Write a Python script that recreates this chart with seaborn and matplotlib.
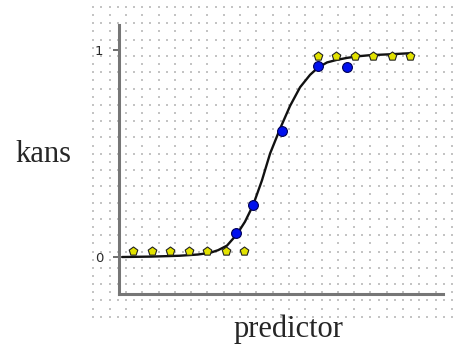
import numpy as np
import pandas as pd
import matplotlib
matplotlib.use("Agg")
from matplotlib import pyplot as plt
import seaborn as sns

# values
curve_x = [0.41, 2.0, 3.5, 4.5, 5.16, 5.6, 6.08, 6.62, 7.05, 7.49, 7.97, 8.41,
           8.95, 9.49, 10.03, 10.57, 11.0, 11.49, 12.0, 12.57, 13.2, 13.81, 15.05, 16.08]
curve_p = [0.0, 0.002, 0.006, 0.012, 0.02, 0.033, 0.055, 0.11, 0.17, 0.25, 0.37, 0.5,
           0.62, 0.73, 0.82, 0.88, 0.915, 0.94, 0.952, 0.962, 0.97, 0.975, 0.98, 0.985]

zero_x = [1, 2, 3, 4, 5, 6, 7]
zero_y = [0.03, 0.03, 0.03, 0.03, 0.03, 0.03, 0.03]
one_x = [11, 12, 13, 14, 15, 16]
one_y = [0.97, 0.97, 0.97, 0.97, 0.97, 0.97]
blue_x = [6.57, 7.49, 9.05, 11.0, 12.57]
blue_y = [0.116, 0.25, 0.61, 0.923, 0.918]

yticks = [0, 1]
ylabels = ["0", "1"]

sns.set_style("white")
plt.rcParams["font.family"] = ["DejaVu Sans"]

W, H = 468, 345
fig = plt.figure(figsize=(W / 100, H / 100), dpi=100)

# dotted grid paper background (pixel coords)
bg = fig.add_axes([0, 0, 1, 1])
bg.set_xlim(0, W)
bg.set_ylim(H, 0)
bg.axis("off")
step = 8.15
gx = np.arange(45) * step + 93.3
gy = np.arange(39) * step + 7.0
ix, iy = np.meshgrid(np.arange(len(gx)), np.arange(len(gy)))
keep = (ix % 2 == 0) | (iy % 2 == 0)
bg.scatter(gx[ix[keep]], gy[iy[keep]], s=1.6, marker="s", color="#c4c4c4", linewidths=0)

ax = fig.add_axes([119 / W, 51 / H, 324 / W, 269 / H])
ax.patch.set_alpha(0)

curve = pd.DataFrame({"x": curve_x, "p": curve_p})
sns.lineplot(data=curve, x="x", y="p", color="#111111", linewidth=1.7, ax=ax, zorder=2)

pts = pd.DataFrame({"x": zero_x + one_x, "y": zero_y + one_y})
sns.scatterplot(data=pts, x="x", y="y", marker="p", s=42, color="#e2e200",
                edgecolor="#222222", linewidth=0.8, ax=ax, zorder=3)
blue = pd.DataFrame({"x": blue_x, "y": blue_y})
sns.scatterplot(data=blue, x="x", y="y", marker="o", s=50, color="#0010ee",
                edgecolor="#000055", linewidth=0.8, ax=ax, zorder=4)

ax.set_xlim(0.243, 17.757)
ax.set_ylim(-0.1787, 1.1208)
ax.set_xticks([])
ax.set_yticks(yticks)
ax.set_yticklabels(ylabels, fontsize=9.5, color="#2a2a2a")
ax.tick_params(axis="y", length=4.5, width=1.2, color="#555555", pad=7, left=True)
ax.set_xlabel("")
ax.set_ylabel("")
for side in ["top", "right"]:
    ax.spines[side].set_visible(False)
for side in ["left", "bottom"]:
    ax.spines[side].set_color("#767676")
    ax.spines[side].set_linewidth(2.2)

fig.text(43.5 / W, (H - 162) / H, "kans", fontsize=22, family="Liberation Serif",
         ha="center", va="baseline")
fig.text(288 / W, (H - 337) / H, "predictor", fontsize=22, family="Liberation Serif",
         ha="center", va="baseline")

fig.savefig("out.png", dpi=100)
